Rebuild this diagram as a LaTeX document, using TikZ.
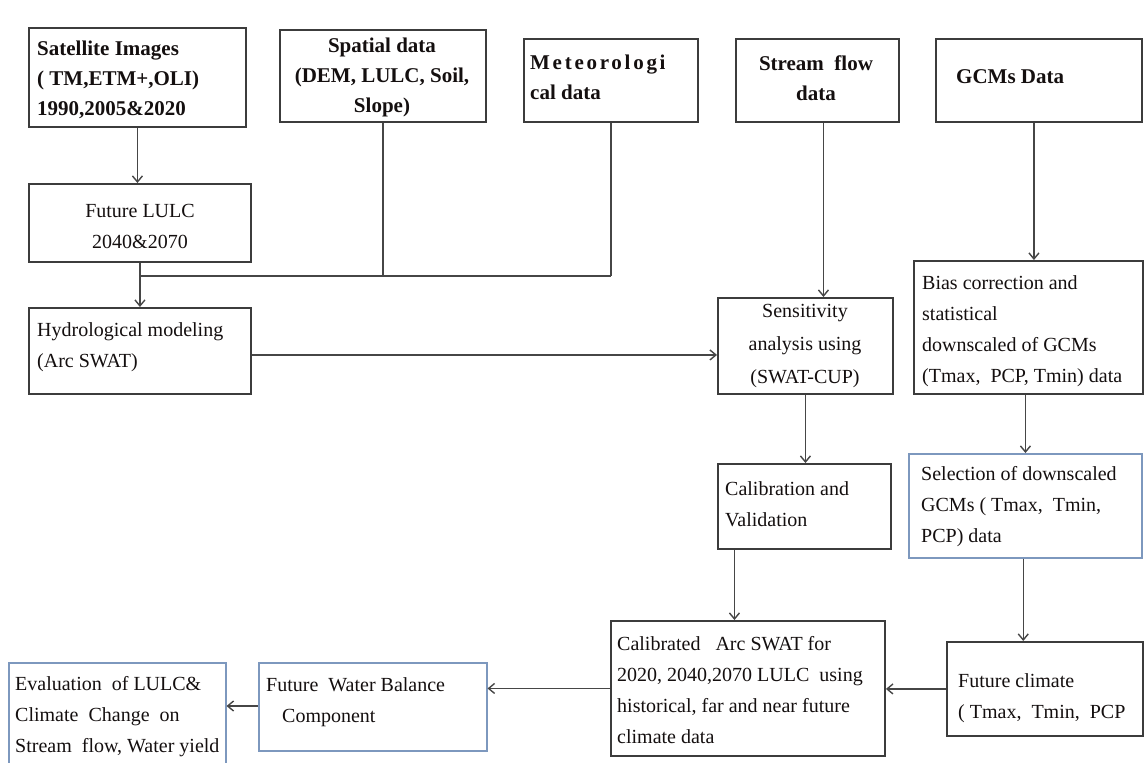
\documentclass[tikz,border=0pt]{standalone}
\usepackage{fontspec}
\setmainfont{Liberation Serif}
\usetikzlibrary{arrows.meta}
\definecolor{boxgray}{RGB}{60,60,60}
\definecolor{boxblue}{RGB}{125,152,190}
\definecolor{linegray}{RGB}{70,70,70}
\definecolor{txtcol}{RGB}{20,15,15}
\tikzset{
  box/.style={draw=boxgray, line width=1.9pt, anchor=north west, inner sep=0pt},
  bluebox/.style={box, draw=boxblue, line width=1.5pt},
  txt/.style={align=left, inner sep=0pt, text=txtcol, font=\fontsize{20}{31}\selectfont},
  ctxt/.style={txt, align=center},
  btxt/.style={txt, font=\fontsize{21}{30}\selectfont\bfseries},
  cbtxt/.style={btxt, align=center},
  conn/.style={draw=linegray, line width=1.4pt},
  arr/.style={conn, -{Straight Barb[length=6pt,width=10pt]}}
}
\begin{document}
\begin{tikzpicture}[x=1pt,y=-1pt]
\clip (0,0) rectangle (1144,763);
\fill[white] (0,0) rectangle (1144,763);
% boxes
\node[box, minimum width=217, minimum height=99] (sat) at (28,27) {};
\node[box, minimum width=206, minimum height=92] (spat) at (279,29) {};
\node[box, minimum width=174, minimum height=83] (met) at (523,38) {};
\node[box, minimum width=163, minimum height=83] (stream) at (735,38) {};
\node[box, minimum width=206, minimum height=83] (gcm) at (935,38) {};
\node[box, minimum width=222, minimum height=78] (lulc) at (28,183) {};
\node[box, minimum width=222, minimum height=86] (hydro) at (28,307) {};
\node[box, minimum width=175, minimum height=96] (sens) at (717,297) {};
\node[box, minimum width=229, minimum height=133] (bias) at (913,260) {};
\node[box, minimum width=173, minimum height=85] (cal) at (717,463) {};
\node[bluebox, minimum width=233, minimum height=104] (sel) at (908,453) {};
\node[box, minimum width=274, minimum height=135] (calib) at (610,620) {};
\node[box, minimum width=196, minimum height=94] (fclim) at (946,641) {};
\node[bluebox, minimum width=228, minimum height=88] (wb) at (258,662) {};
\node[bluebox, minimum width=217, minimum height=115] (eval) at (8,662) {};
% texts
\node[btxt, anchor=west] (satT) at (37,80) {Satellite Images\\( TM,ETM+,OLI)\\1990,2005\&2020};
\node[cbtxt] (spatT) at (382,77) {Spatial data\\(DEM, LULC, Soil,\\Slope)};
\node[btxt, anchor=west] (metT) at (530,77) {{\addfontfeature{LetterSpace=13}Meteorologi}\\cal data};
\node[cbtxt] (streamT) at (816,78) {Stream\ \ flow\\data};
\node[btxt, anchor=west] (gcmT) at (956,77) {GCMs Data};
\node[ctxt] (lulcT) at (140,226) {Future LULC\\2040\&2070};
\node[txt, anchor=west] (hydroT) at (37,347) {Hydrological modeling\\(Arc SWAT)};
\node[ctxt, font=\fontsize{20}{33}\selectfont] (sensT) at (805,346) {Sensitivity\\analysis using\\(SWAT-CUP)};
\node[txt, anchor=west] (biasT) at (922,331) {Bias correction and\\statistical\\downscaled of GCMs\\(Tmax,\ \ PCP, Tmin) data};
\node[txt, anchor=west] (calT) at (725,504) {Calibration and\\Validation};
\node[txt, anchor=west] (selT) at (921,507) {Selection of downscaled\\GCMs ( Tmax,\ \ Tmin,\\PCP) data};
\node[txt, anchor=west] (calibT) at (617,690) {Calibrated\ \ \ Arc SWAT for\\2020, 2040,2070 LULC\ \ using\\historical, far and near future\\climate data};
\node[txt, anchor=west] (fclimT) at (958,698) {Future climate\\( Tmax,\ \ Tmin,\ \ PCP};
\node[txt, anchor=west] (wbT) at (266,702) {Future\ \ Water Balance\\\hspace*{16pt}Component};
\node[txt, anchor=west] (evalT) at (15,717) {Evaluation\ \ of LULC\&\\Climate\ \ Change\ \ on\\Stream\ \ flow, Water yield};
% connectors
\coordinate (j) at (140,276);
\draw[arr] (sat.south) -- (sat.south |- lulc.north);
\draw[conn] (spat.south) -- (spat.south |- j);
\draw[conn] (met.south) -- (met.south |- j);
\draw[conn] (lulc.south |- j) -- (met.south |- j);
\draw[arr] (lulc.south) -- (hydro.north);
\draw[arr] ([yshift=-4pt]hydro.east) -- ([yshift=-4pt]hydro.east -| sens.west);
\draw[arr] ([xshift=6pt]stream.south) -- ([xshift=6pt]stream.south |- sens.north);
\draw[arr] ([xshift=-5pt]gcm.south) -- ([xshift=-5pt]gcm.south |- bias.north);
\draw[arr] (sens.south) -- (sens.south |- cal.north);
\draw[arr] ([xshift=-3pt]bias.south) -- ([xshift=-3pt]bias.south |- sel.north);
\draw[arr] ([xshift=-70pt]cal.south) -- ([xshift=-70pt]cal.south |- calib.north);
\draw[arr] ([xshift=-2pt]sel.south) -- ([xshift=-2pt]sel.south |- fclim.north);
\draw[arr] (fclim.west) -- (fclim.west -| calib.east);
\draw[arr] (calib.west) -- (calib.west -| wb.east);
\draw[arr] (wb.west |- 0,706) -- (eval.east |- 0,706);
\end{tikzpicture}
\end{document}
